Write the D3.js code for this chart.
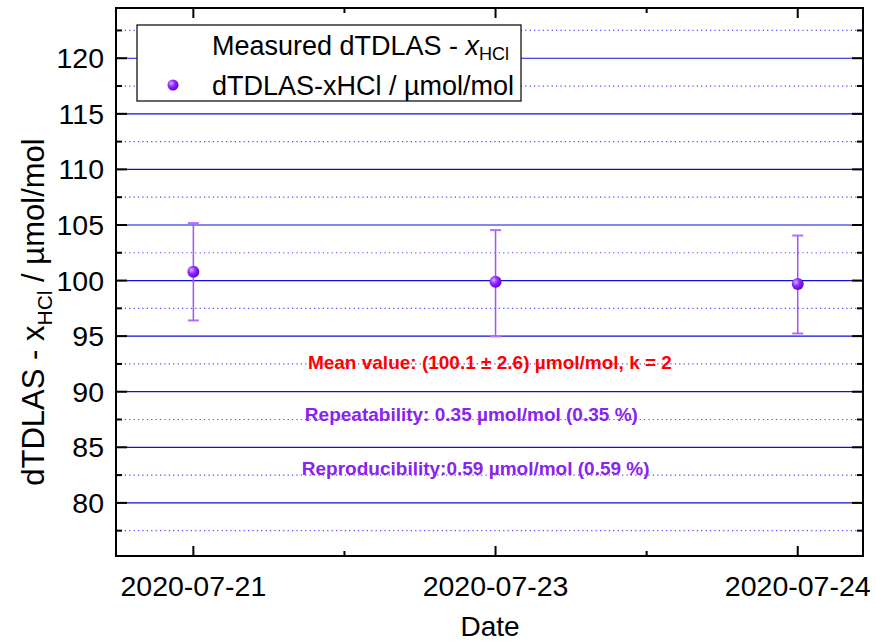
<!DOCTYPE html>
<html>
<head>
<meta charset="utf-8">
<script src="https://cdn.jsdelivr.net/npm/d3@7"></script>
<style>
  html, body { margin: 0; padding: 0; background: #ffffff; }
  svg { display: block; font-family: "Liberation Sans", Arial, sans-serif; }
</style>
</head>
<body>
<svg id="chart" width="876" height="642"></svg>
<script>
// ---- data ----
const dates = ["2020-07-21", "2020-07-23", "2020-07-24"];
const values = [100.79, 99.89, 99.69];
const upper = [105.17, 104.54, 104.05];
const lower = [96.41, 94.98, 95.24];
const yMajorTicks = [80, 85, 90, 95, 100, 105, 110, 115, 120];
const yMinorTicks = [77.5, 82.5, 87.5, 92.5, 97.5, 102.5, 107.5, 112.5, 117.5, 122.5];
const xMinorTicks = [1.5, 2.5];
const annotations = [
  { text: "Mean value: (100.1 \u00B1 2.6) \u00B5mol/mol, k = 2", color: "#ff0000", x: 1.379, y: 92.67 },
  { text: "Repeatability: 0.35 \u00B5mol/mol (0.35 %)", color: "#8a22f0", x: 1.369, y: 87.99 },
  { text: "Reproducibility:0.59 \u00B5mol/mol (0.59 %)", color: "#8a22f0", x: 1.359, y: 83.05 }
];

// ---- layout ----
const svg = d3.select("#chart");
const L = 116, R = 863, T = 8, B = 556;
const x = d3.scaleLinear().domain([0.744, 3.216]).range([L, R]);
const y = d3.scaleLinear().domain([75.22, 124.52]).range([B, T]);
const idx = dates.map((d, i) => i + 1);

// defs: sphere gradient
const defs = svg.append("defs");
const grad = defs.append("radialGradient").attr("id", "sphere")
  .attr("cx", "35%").attr("cy", "35%").attr("r", "65%");
grad.append("stop").attr("offset", "0%").attr("stop-color", "#d9b3ff");
grad.append("stop").attr("offset", "45%").attr("stop-color", "#9430ff");
grad.append("stop").attr("offset", "100%").attr("stop-color", "#6800e0");

// grid lines
svg.append("g").selectAll("line").data(yMajorTicks).join("line")
  .attr("x1", L).attr("x2", R)
  .attr("y1", d => y(d)).attr("y2", d => y(d))
  .attr("stroke", "#1010d8").attr("stroke-width", 1.2);
svg.append("g").selectAll("line").data(yMinorTicks).join("line")
  .attr("x1", L).attr("x2", R)
  .attr("y1", d => y(d)).attr("y2", d => y(d))
  .attr("stroke", "#4a4aff").attr("stroke-width", 1.2)
  .attr("stroke-dasharray", "1.2,3.2");

// annotations
svg.append("g").selectAll("text").data(annotations).join("text")
  .attr("x", d => x(d.x)).attr("y", d => y(d.y))
  .attr("fill", d => d.color)
  .attr("font-size", 19).attr("font-weight", "bold")
  .attr("dominant-baseline", "central")
  .text(d => d.text);

// error bars
const eb = svg.append("g");
eb.selectAll("line.v").data(idx).join("line").attr("class", "v")
  .attr("x1", d => x(d)).attr("x2", d => x(d))
  .attr("y1", (d, i) => y(upper[i])).attr("y2", (d, i) => y(lower[i]))
  .attr("stroke", "#a450ff").attr("stroke-width", 1.5);
eb.selectAll("line.cu").data(idx).join("line").attr("class", "cu")
  .attr("x1", d => x(d) - 5.5).attr("x2", d => x(d) + 5.5)
  .attr("y1", (d, i) => y(upper[i])).attr("y2", (d, i) => y(upper[i]))
  .attr("stroke", "#b070ff").attr("stroke-width", 2);
eb.selectAll("line.cl").data(idx).join("line").attr("class", "cl")
  .attr("x1", d => x(d) - 5.5).attr("x2", d => x(d) + 5.5)
  .attr("y1", (d, i) => y(lower[i])).attr("y2", (d, i) => y(lower[i]))
  .attr("stroke", "#b070ff").attr("stroke-width", 2);

// points
svg.append("g").selectAll("circle").data(idx).join("circle")
  .attr("cx", d => x(d)).attr("cy", (d, i) => y(values[i]))
  .attr("r", 6).attr("fill", "url(#sphere)");

// frame
svg.append("rect").attr("x", L).attr("y", T).attr("width", R - L).attr("height", B - T)
  .attr("fill", "none").attr("stroke", "#000").attr("stroke-width", 2);

// ticks (inward, on all four sides)
const tk = svg.append("g").attr("stroke", "#000").attr("stroke-width", 2);
yMajorTicks.forEach(v => {
  tk.append("line").attr("x1", L).attr("x2", L + 11).attr("y1", y(v)).attr("y2", y(v));
  tk.append("line").attr("x1", R).attr("x2", R - 11).attr("y1", y(v)).attr("y2", y(v));
});
yMinorTicks.forEach(v => {
  tk.append("line").attr("x1", L).attr("x2", L + 6).attr("y1", y(v)).attr("y2", y(v));
  tk.append("line").attr("x1", R).attr("x2", R - 6).attr("y1", y(v)).attr("y2", y(v));
});
idx.forEach(v => {
  tk.append("line").attr("x1", x(v)).attr("x2", x(v)).attr("y1", B).attr("y2", B - 10);
  tk.append("line").attr("x1", x(v)).attr("x2", x(v)).attr("y1", T).attr("y2", T + 10);
});
xMinorTicks.forEach(v => {
  tk.append("line").attr("x1", x(v)).attr("x2", x(v)).attr("y1", B).attr("y2", B - 5);
  tk.append("line").attr("x1", x(v)).attr("x2", x(v)).attr("y1", T).attr("y2", T + 5);
});

// tick labels
svg.append("g").selectAll("text").data(yMajorTicks).join("text")
  .attr("x", L - 12).attr("y", d => y(d))
  .attr("text-anchor", "end").attr("dominant-baseline", "central")
  .attr("font-size", 28.5).attr("fill", "#000")
  .text(d => d);
svg.append("g").selectAll("text").data(idx).join("text")
  .attr("x", d => x(d)).attr("y", 596)
  .attr("text-anchor", "middle")
  .attr("font-size", 28.5).attr("fill", "#000")
  .text((d, i) => dates[i]);

// axis titles
svg.append("text").attr("x", 490).attr("y", 636)
  .attr("text-anchor", "middle").attr("font-size", 28).text("Date");

const yt = svg.append("text")
  .attr("transform", "translate(44," + 312 + ") rotate(-90)")
  .attr("text-anchor", "middle").attr("font-size", 31).attr("fill", "#000");
yt.append("tspan").text("dTDLAS - x");
yt.append("tspan").attr("font-size", 21).attr("dy", 8).text("HCl");
yt.append("tspan").attr("dy", -8).text(" / \u00B5mol/mol");

// legend
const lg = svg.append("g");
lg.append("rect").attr("x", 137).attr("y", 25).attr("width", 384).attr("height", 76)
  .attr("fill", "#fff").attr("stroke", "#000").attr("stroke-width", 1.2);
const t1 = lg.append("text").attr("x", 212).attr("y", 55).attr("font-size", 27).attr("fill", "#000");
t1.append("tspan").text("Measured dTDLAS - ");
t1.append("tspan").attr("font-style", "italic").text("x");
t1.append("tspan").attr("font-size", 18).attr("dy", 5).text("HCl");
lg.append("circle").attr("cx", 173).attr("cy", 85).attr("r", 5.5).attr("fill", "url(#sphere)");
lg.append("text").attr("x", 212).attr("y", 95).attr("font-size", 27).attr("fill", "#000")
  .text("dTDLAS-xHCl / \u00B5mol/mol");
</script>
</body>
</html>
